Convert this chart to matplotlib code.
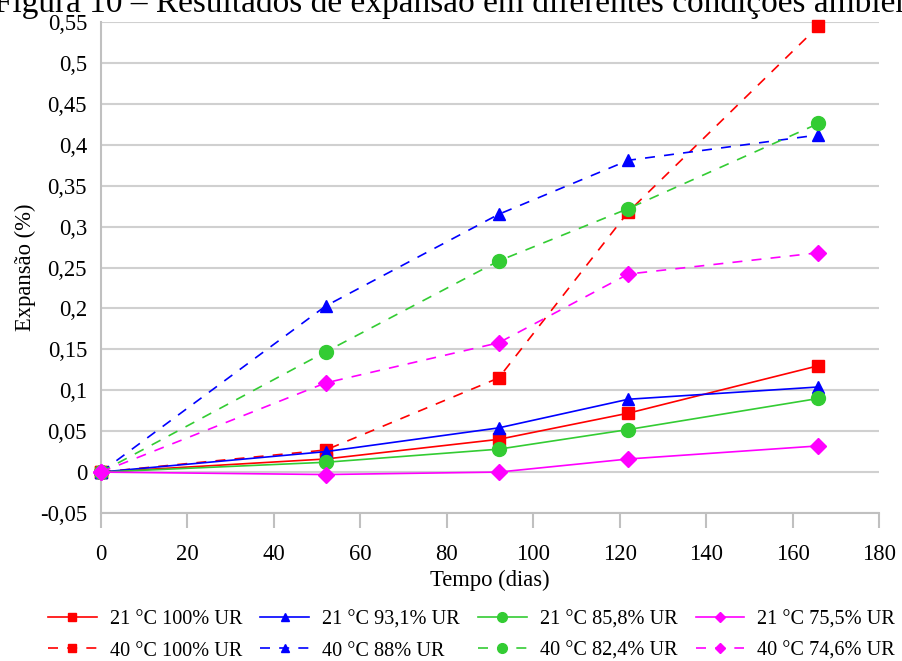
import matplotlib
matplotlib.use("Agg")
import matplotlib.pyplot as plt
from matplotlib.ticker import FuncFormatter, MultipleLocator

plt.rcParams['font.family'] = ['Liberation Serif', 'DejaVu Serif']

days = [0, 52, 92, 122, 166]
labels = ["21 °C 100% UR", "40 °C 100% UR",
          "21 °C 93,1% UR", "40 °C 88% UR",
          "21 °C 85,8% UR", "40 °C 82,4% UR",
          "21 °C 75,5% UR", "40 °C 74,6% UR"]
s21_100 = [0, 0.016, 0.040, 0.072, 0.130]
s40_100 = [0, 0.027, 0.115, 0.318, 0.545]
s21_931 = [0, 0.025, 0.054, 0.089, 0.104]
s40_88 = [0, 0.203, 0.315, 0.381, 0.412]
s21_858 = [0, 0.012, 0.028, 0.052, 0.090]
s40_824 = [0, 0.147, 0.258, 0.322, 0.426]
s21_755 = [0, -0.003, 0.000, 0.016, 0.032]
s40_746 = [0, 0.109, 0.158, 0.242, 0.268]

series = [s21_100, s40_100, s21_931, s40_88, s21_858, s40_824, s21_755, s40_746]
colors = ['#FF0000', '#FF0000', '#0000FF', '#0000FF', '#33CC33', '#33CC33', '#FF00FF', '#FF00FF']
markers = ['s', 's', '^', '^', 'o', 'o', 'D', 'D']
msizes = [9, 9, 9, 9, 10, 10, 8, 8]
dash = (0, (6, 5.5))
styles = ['-', dash, '-', dash, '-', dash, '-', dash]

W, H = 903, 661
fig = plt.figure(figsize=(W / 100, H / 100), dpi=100)
ax = fig.add_axes([101 / W, 1 - 513 / H, 778 / W, 491 / H])

for y, c, m, ms, ls, lab in zip(series, colors, markers, msizes, styles, labels):
    ax.plot(days, y, color=c, marker=m, markersize=ms, linestyle=ls, linewidth=1.2,
            label=lab, clip_on=False, zorder=3)

ax.set_xlim(0, 180)
ax.set_ylim(-0.05, 0.55)
ax.xaxis.set_major_locator(MultipleLocator(20))
ax.yaxis.set_major_locator(MultipleLocator(0.05))


def fmt(v, p):
    if abs(v) < 1e-9:
        return "0"
    return ("%.2f" % v).rstrip('0').rstrip('.').replace('.', ',')


ax.yaxis.set_major_formatter(FuncFormatter(fmt))
ax.grid(axis='y', color='#d0d0d0', linewidth=1.5)
ax.set_axisbelow(True)
for s in ['top', 'right']:
    ax.spines[s].set_visible(False)
for s in ['left', 'bottom']:
    ax.spines[s].set_color('#c0c0c0')
    ax.spines[s].set_linewidth(1.5)
ax.tick_params(axis='x', direction='out', length=10.5, width=1.5, color='#c0c0c0', labelsize=16.3, pad=12)
ax.tick_params(axis='y', length=0, labelsize=16.3, pad=10)
ax.set_xlabel("Tempo (dias)", fontsize=16.3, labelpad=3)
ax.set_ylabel("Expansão (%)", fontsize=16.3, labelpad=3)

fig.text(-6 / W, 1 - 12 / H, "Figura 10 – Resultados de expansão em diferentes condições ambientais",
         fontsize=24, ha='left', va='baseline')

fig.legend(loc='upper left', bbox_to_anchor=(48 / W, 1 - 610 / H), ncol=4, frameon=False,
           fontsize=14.6, handlelength=2.4, handletextpad=0.64, columnspacing=0.9,
           labelspacing=0.6, markerscale=0.7, borderpad=0, borderaxespad=0)

fig.savefig("out.png", dpi=100)
